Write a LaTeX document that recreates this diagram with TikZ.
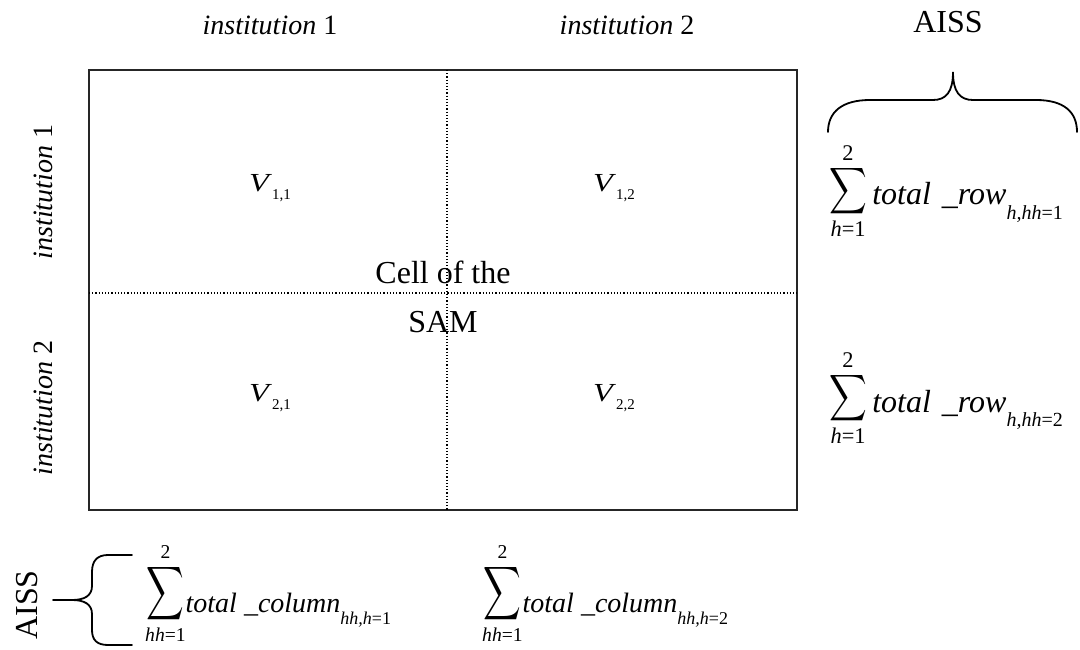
\documentclass[tikz,border=0pt]{standalone}
\usepackage{amsmath}
\usepackage{graphicx}
\usepackage{fontspec}
\setmainfont{Liberation Serif}
\newcommand{\subtx}[2]{\raisebox{-0.45em}{\fontsize{#1}{#1}\selectfont #2}}
\newcommand{\bigsum}[3]{\mathop{\raisebox{#3}{\scalebox{#1}[#2]{$\displaystyle\sum$}}}\limits}
\newcommand{\rowsum}[1]{$\bigsum{1.05}{1.3}{6pt}_{\text{\itshape h\upshape=1}}^{\text{2}}$\,\textit{total\hspace{3pt} \_row}\subtx{20}{\itshape h,hh\upshape=#1}}
\newcommand{\colsum}[1]{$\bigsum{1.05}{1.5}{9pt}_{\text{\itshape hh\upshape=1}}^{\text{2}}$\textit{total \_column}\subtx{18}{\itshape hh,h\upshape=#1}}
\newcommand{\cellv}[1]{\scalebox{1.25}[1]{\textit{V}}\raisebox{-0.3em}{\fontsize{15}{15}\selectfont #1}}
\begin{document}
\begin{tikzpicture}[x=1pt,y=-1pt,
  lbl/.style={inner sep=0pt,font=\fontsize{28}{32}\selectfont},
  rowlbl/.style={inner sep=0pt,font=\fontsize{32}{36}\selectfont},
  cellf/.style={inner sep=0pt,font=\fontsize{26}{30}\selectfont},
  big/.style={inner sep=0pt,font=\fontsize{32}{36}\selectfont},
  frame/.style={line width=1.8pt,draw=black!85},
  grid/.style={line width=1.2pt,dotted},
  brc/.style={line width=1.8pt,line cap=round}]
\useasboundingbox (0,0) rectangle (1080,650);
% frame
\coordinate (tl) at (89,70);
\coordinate (br) at (797,510);
\draw[frame] (tl) rectangle (br);
\coordinate (vt) at (447,70);
\coordinate (vb) at (447,510);
\coordinate (hl) at (89,293);
\coordinate (hr) at (797,293);
\draw[grid] (vt) -- (vb);
\draw[grid] (hl) -- (hr);
% headers
\node[lbl] (c1) at (270,25) {\textit{institution} 1};
\node[lbl] (c2) at (627,25) {\textit{institution} 2};
\node[lbl,rotate=90] (r1) at (43,192) {\textit{institution} 1};
\node[lbl,rotate=90] (r2) at (43,408) {\textit{institution} 2};
% cells
\node[cellf] (v11) at (270,188) {\cellv{1,1}};
\node[cellf] (v12) at (614,188) {\cellv{1,2}};
\node[cellf] (v21) at (270,398) {\cellv{2,1}};
\node[cellf] (v22) at (614,398) {\cellv{2,2}};
\node[big] (cell) at (443,272) {Cell of the};
\node[big] (sam) at (443,322) {SAM};
% right
\node[big] (aisst) at (948,22) {AISS};
\draw[brc] (828,132) .. controls (828,112) and (842,100) .. (870,100) -- (933,100)
  .. controls (946,100) and (953,92) .. (953,72)
  .. controls (953,92) and (960,100) .. (973,100) -- (1036,100)
  .. controls (1064,100) and (1077,112) .. (1077,132);
\node[rowlbl,anchor=base west] (rs1) at (829,205) {\rowsum{1}};
\node[rowlbl,anchor=base west] (rs2) at (829,412) {\rowsum{2}};
% bottom
\node[big,rotate=90] (aissl) at (27,605) {AISS};
\draw[brc] (132,555) -- (108,555) .. controls (97,555) and (92,561) .. (92,572) -- (92,586)
  .. controls (92,596) and (84,600) .. (72,600) -- (53,600);
\draw[brc] (72,600) .. controls (84,600) and (92,604) .. (92,614) -- (92,630)
  .. controls (92,640) and (97,645) .. (108,645) -- (132,645);
\node[lbl,anchor=base west] (cs1) at (145,612) {\colsum{1}};
\node[lbl,anchor=base west] (cs2) at (482,612) {\colsum{2}};
\end{tikzpicture}
\end{document}
